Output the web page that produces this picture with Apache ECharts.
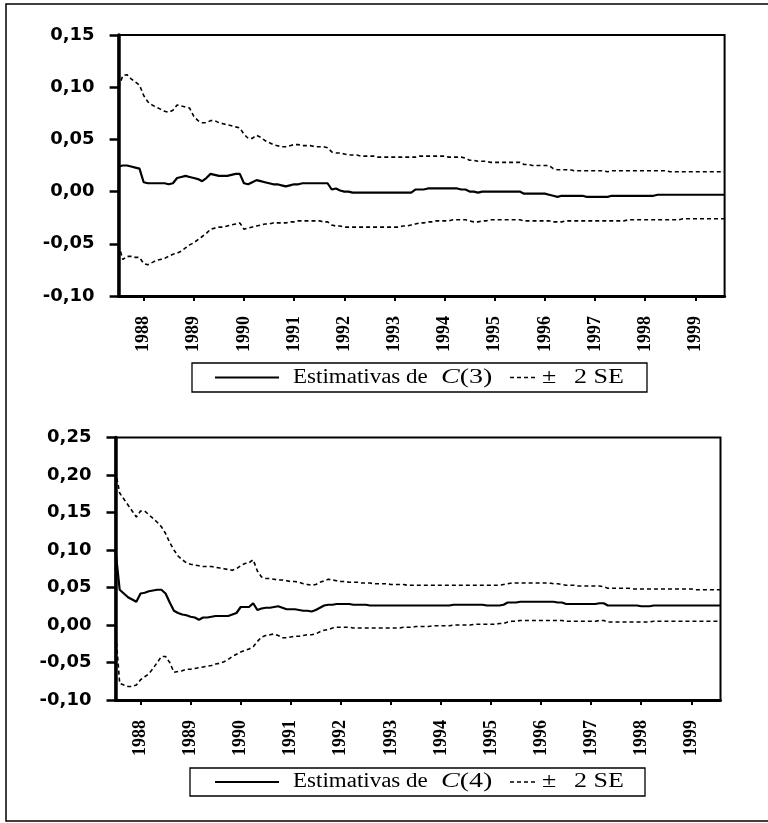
<!DOCTYPE html>
<html><head><meta charset="utf-8">
<script src="https://cdn.jsdelivr.net/npm/echarts@6/dist/echarts.min.js"></script>
<style>html,body{margin:0;padding:0;background:#fff}#c{width:768px;height:823px}</style>
</head><body><div id="c"></div>
<script>
// Monthly observations 1987:07 .. 1999:08
const startYear = 1987, startMonth = 7, nObs = 146;
const categories = [];
for (let k = 0; k < nObs; k++) {
  const t = startMonth - 1 + k;
  const y = startYear + Math.floor(t / 12), m = (t % 12) + 1;
  categories.push(y + '-' + (m < 10 ? '0' + m : m));
}

// Chart 1: recursive estimates of C(3) and +/- 2 SE
const est3 = [
  0.024,0.025,0.025,0.024,0.023,0.022,
  0.009,0.008,0.008,0.008,0.008,0.008,0.007,0.008,0.013,0.014,0.015,0.014,
  0.013,0.012,0.010,0.013,0.017,0.016,0.015,0.015,0.015,0.016,0.017,0.017,
  0.008,0.007,0.009,0.011,0.010,0.009,0.008,0.007,0.007,0.006,0.005,0.006,
  0.007,0.007,0.008,0.008,0.008,0.008,0.008,0.008,0.008,0.002,0.003,0.001,
  0.000,0.000,-0.001,-0.001,-0.001,-0.001,-0.001,-0.001,-0.001,-0.001,-0.001,-0.001,
  -0.001,-0.001,-0.001,-0.001,-0.001,0.002,0.002,0.002,0.003,0.003,0.003,0.003,
  0.003,0.003,0.003,0.003,0.002,0.002,0.000,0.000,-0.001,0.000,0.000,0.000,
  0.000,0.000,0.000,0.000,0.000,0.000,0.000,-0.002,-0.002,-0.002,-0.002,-0.002,
  -0.002,-0.003,-0.004,-0.005,-0.004,-0.004,-0.004,-0.004,-0.004,-0.004,-0.005,-0.005,
  -0.005,-0.005,-0.005,-0.005,-0.004,-0.004,-0.004,-0.004,-0.004,-0.004,-0.004,-0.004,
  -0.004,-0.004,-0.004,-0.003,-0.003,-0.003,-0.003,-0.003,-0.003,-0.003,-0.003,-0.003,
  -0.003,-0.003,-0.003,-0.003,-0.003,-0.003,-0.003,-0.003
];
const up3 = [
  0.100,0.111,0.112,0.108,0.105,0.102,
  0.092,0.086,0.083,0.081,0.079,0.077,0.076,0.078,0.083,0.082,0.081,0.080,
  0.072,0.068,0.066,0.066,0.068,0.068,0.066,0.065,0.064,0.063,0.062,0.061,
  0.055,0.051,0.051,0.054,0.052,0.049,0.047,0.045,0.044,0.043,0.043,0.044,
  0.045,0.045,0.044,0.044,0.044,0.043,0.043,0.043,0.042,0.038,0.037,0.037,
  0.036,0.035,0.035,0.035,0.034,0.034,0.034,0.034,0.033,0.033,0.033,0.033,
  0.033,0.033,0.033,0.033,0.033,0.033,0.034,0.034,0.034,0.034,0.034,0.034,
  0.034,0.033,0.033,0.033,0.033,0.032,0.030,0.030,0.029,0.029,0.029,0.028,
  0.028,0.028,0.028,0.028,0.028,0.028,0.028,0.026,0.026,0.025,0.025,0.025,
  0.025,0.025,0.022,0.021,0.021,0.021,0.021,0.020,0.020,0.020,0.020,0.020,
  0.020,0.020,0.020,0.019,0.020,0.020,0.020,0.020,0.020,0.020,0.020,0.020,
  0.020,0.020,0.020,0.020,0.020,0.020,0.019,0.019,0.019,0.019,0.019,0.019,
  0.019,0.019,0.019,0.019,0.019,0.019,0.019,0.019
];
const lo3 = [
  -0.051,-0.065,-0.062,-0.062,-0.063,-0.063,
  -0.069,-0.070,-0.068,-0.066,-0.065,-0.064,-0.062,-0.060,-0.059,-0.057,-0.054,-0.051,
  -0.049,-0.046,-0.043,-0.040,-0.036,-0.035,-0.034,-0.034,-0.033,-0.032,-0.031,-0.030,
  -0.036,-0.035,-0.034,-0.033,-0.032,-0.031,-0.031,-0.030,-0.030,-0.030,-0.030,-0.029,
  -0.029,-0.028,-0.028,-0.028,-0.028,-0.028,-0.028,-0.029,-0.029,-0.032,-0.033,-0.033,
  -0.034,-0.034,-0.034,-0.034,-0.034,-0.034,-0.034,-0.034,-0.034,-0.034,-0.034,-0.034,
  -0.034,-0.034,-0.033,-0.033,-0.032,-0.031,-0.030,-0.030,-0.029,-0.029,-0.028,-0.028,
  -0.028,-0.028,-0.027,-0.027,-0.027,-0.027,-0.028,-0.029,-0.029,-0.028,-0.028,-0.027,
  -0.027,-0.027,-0.027,-0.027,-0.027,-0.027,-0.027,-0.028,-0.028,-0.028,-0.028,-0.028,
  -0.028,-0.028,-0.029,-0.029,-0.029,-0.028,-0.028,-0.028,-0.028,-0.028,-0.028,-0.028,
  -0.028,-0.028,-0.028,-0.028,-0.028,-0.028,-0.028,-0.028,-0.027,-0.027,-0.027,-0.027,
  -0.027,-0.027,-0.027,-0.027,-0.027,-0.027,-0.027,-0.027,-0.027,-0.026,-0.026,-0.026,
  -0.026,-0.026,-0.026,-0.026,-0.026,-0.026,-0.026,-0.026
];

// Chart 2: recursive estimates of C(4) and +/- 2 SE
const est4 = [
  0.100,0.047,0.042,0.037,0.034,0.031,
  0.042,0.043,0.045,0.046,0.047,0.047,0.042,0.030,0.019,0.016,0.014,0.013,
  0.011,0.010,0.007,0.010,0.010,0.011,0.012,0.012,0.012,0.012,0.014,0.016,
  0.024,0.024,0.024,0.029,0.020,0.022,0.023,0.023,0.024,0.025,0.023,0.021,
  0.021,0.021,0.020,0.019,0.019,0.018,0.020,0.023,0.026,0.027,0.027,0.028,
  0.028,0.028,0.028,0.027,0.027,0.027,0.027,0.026,0.026,0.026,0.026,0.026,
  0.026,0.026,0.026,0.026,0.026,0.026,0.026,0.026,0.026,0.026,0.026,0.026,
  0.026,0.026,0.026,0.027,0.027,0.027,0.027,0.027,0.027,0.027,0.027,0.026,
  0.026,0.026,0.026,0.027,0.030,0.030,0.030,0.031,0.031,0.031,0.031,0.031,
  0.031,0.031,0.031,0.031,0.030,0.030,0.028,0.028,0.028,0.028,0.028,0.028,
  0.028,0.028,0.029,0.029,0.026,0.026,0.026,0.026,0.026,0.026,0.026,0.026,
  0.025,0.025,0.025,0.026,0.026,0.026,0.026,0.026,0.026,0.026,0.026,0.026,
  0.026,0.026,0.026,0.026,0.026,0.026,0.026,0.026
];
const up4 = [
  0.205,0.176,0.168,0.160,0.152,0.144,
  0.152,0.152,0.147,0.142,0.137,0.131,0.122,0.110,0.100,0.092,0.087,0.083,
  0.081,0.080,0.079,0.078,0.078,0.078,0.077,0.076,0.075,0.074,0.073,0.075,
  0.079,0.082,0.083,0.087,0.072,0.064,0.062,0.062,0.061,0.060,0.060,0.059,
  0.058,0.058,0.057,0.055,0.054,0.053,0.054,0.057,0.059,0.061,0.060,0.059,
  0.058,0.058,0.057,0.057,0.057,0.056,0.056,0.056,0.055,0.055,0.055,0.055,
  0.054,0.054,0.054,0.054,0.053,0.053,0.053,0.053,0.053,0.053,0.053,0.053,
  0.053,0.053,0.053,0.053,0.053,0.053,0.053,0.053,0.053,0.053,0.053,0.053,
  0.053,0.053,0.053,0.054,0.055,0.056,0.056,0.056,0.056,0.056,0.056,0.056,
  0.056,0.056,0.056,0.055,0.055,0.054,0.053,0.053,0.053,0.052,0.052,0.052,
  0.052,0.052,0.052,0.051,0.049,0.049,0.049,0.049,0.049,0.049,0.048,0.048,
  0.048,0.048,0.048,0.048,0.048,0.048,0.048,0.048,0.048,0.048,0.048,0.048,
  0.048,0.047,0.047,0.047,0.047,0.047,0.047,0.047
];
const lo4 = [
  -0.005,-0.078,-0.080,-0.082,-0.082,-0.080,
  -0.073,-0.069,-0.065,-0.058,-0.050,-0.042,-0.042,-0.050,-0.063,-0.062,-0.061,-0.059,
  -0.059,-0.058,-0.057,-0.056,-0.055,-0.054,-0.052,-0.051,-0.049,-0.046,-0.042,-0.039,
  -0.036,-0.034,-0.032,-0.029,-0.022,-0.016,-0.014,-0.013,-0.012,-0.014,-0.017,-0.017,
  -0.016,-0.015,-0.015,-0.014,-0.013,-0.013,-0.012,-0.009,-0.007,-0.006,-0.004,-0.003,
  -0.003,-0.003,-0.003,-0.004,-0.004,-0.004,-0.004,-0.004,-0.004,-0.004,-0.004,-0.004,
  -0.004,-0.004,-0.004,-0.003,-0.003,-0.003,-0.002,-0.002,-0.002,-0.002,-0.001,-0.001,
  -0.001,-0.001,-0.001,0.000,0.000,0.000,0.000,0.000,0.001,0.001,0.001,0.001,
  0.001,0.001,0.002,0.002,0.004,0.005,0.005,0.006,0.006,0.006,0.006,0.006,
  0.006,0.006,0.006,0.006,0.006,0.006,0.005,0.005,0.005,0.005,0.005,0.005,
  0.005,0.005,0.006,0.006,0.004,0.004,0.004,0.004,0.004,0.004,0.004,0.004,
  0.004,0.004,0.004,0.005,0.005,0.005,0.005,0.005,0.005,0.005,0.005,0.005,
  0.005,0.005,0.005,0.005,0.005,0.005,0.005,0.005
];

const legendLabels = [
  { name: 'Estimativas de ', coef: 'C', idx: '(3)', band: '\u00b1', bandRest: '2 SE' },
  { name: 'Estimativas de ', coef: 'C', idx: '(4)', band: '\u00b1', bandRest: '2 SE' }
];

const chart = echarts.init(document.getElementById('c'), null, { renderer: 'canvas' });

const isJan = (i, v) => v.slice(5) === '01';
function yFmt(v) {
  let r = Math.round(v * 100) / 100;
  if (Math.abs(r) < 1e-9) r = 0;
  return r.toFixed(2).replace('.', ',');
}
function xAxisCfg(g) {
  return {
    gridIndex: g, type: 'category', data: categories, boundaryGap: false,
    axisLine: { show: true, onZero: false, lineStyle: { color: '#000', width: 3 } },
    axisTick: { show: true, interval: isJan, length: 5, lineStyle: { color: '#000', width: 2 } },
    axisLabel: {
      interval: isJan, formatter: v => v.slice(0, 4), rotate: 90, margin: 20,
      fontFamily: 'Liberation Serif', fontWeight: 'bold', fontSize: 18, color: '#000'
    },
    splitLine: { show: false }
  };
}
function yAxisCfg(g, max) {
  return {
    gridIndex: g, type: 'value', min: -0.1, max: max, interval: 0.05,
    axisLine: { show: true, onZero: false, lineStyle: { color: '#000', width: 3.5 } },
    axisTick: { show: true, length: 9, lineStyle: { color: '#000', width: 2.5 } },
    axisLabel: {
      formatter: yFmt, margin: 24, fontFamily: 'DejaVu Sans', fontWeight: 'bold',
      fontSize: 18, color: '#000'
    },
    splitLine: { show: false }
  };
}
function lineSeries(g, data, dashed) {
  return {
    type: 'line', xAxisIndex: g, yAxisIndex: g, data: data, symbol: 'none',
    silent: true, z: 3,
    lineStyle: dashed
      ? { color: '#000', width: 1.6, type: [4, 3] }
      : { color: '#000', width: 2.2 }
  };
}
function legendGroup(lbl, box, cy) {
  const base = { fontFamily: 'Liberation Serif', fontSize: 20, fill: '#000' };
  return {
    type: 'group',
    children: [
      { type: 'rect', shape: box, style: { fill: 'none', stroke: '#000', lineWidth: 1.3 } },
      { type: 'line', shape: { x1: 215, y1: cy, x2: 279, y2: cy }, style: { stroke: '#000', lineWidth: 1.8 } },
      { type: 'text', x: 293, y: cy, scaleX: 1.15,
        style: Object.assign({ text: lbl.name, verticalAlign: 'middle', textAlign: 'left' }, base) },
      { type: 'text', x: 441, y: cy, scaleX: 1.4,
        style: Object.assign({ text: '{i|' + lbl.coef + '}{n|' + lbl.idx + '}', verticalAlign: 'middle', textAlign: 'left',
          rich: { i: Object.assign({ fontStyle: 'italic' }, base), n: Object.assign({}, base) } }, base) },
      { type: 'line', shape: { x1: 510, y1: cy, x2: 537, y2: cy }, style: { stroke: '#000', lineWidth: 1.5, lineDash: [4, 3] } },
      { type: 'text', x: 542, y: cy, scaleX: 1.3,
        style: Object.assign({ text: lbl.band, verticalAlign: 'middle', textAlign: 'left' }, base) },
      { type: 'text', x: 574, y: cy, scaleX: 1.3,
        style: Object.assign({ text: lbl.bandRest, verticalAlign: 'middle', textAlign: 'left' }, base) }
    ]
  };
}

chart.setOption({
  animation: false,
  backgroundColor: '#fff',
  grid: [
    { left: 118.6, top: 35, width: 606, height: 261, show: true, borderColor: '#000', borderWidth: 2, backgroundColor: 'transparent' },
    { left: 115.5, top: 437.5, width: 605, height: 262.5, show: true, borderColor: '#000', borderWidth: 2, backgroundColor: 'transparent' }
  ],
  xAxis: [xAxisCfg(0), xAxisCfg(1)],
  yAxis: [yAxisCfg(0, 0.15), yAxisCfg(1, 0.25)],
  series: [
    lineSeries(0, est3, false), lineSeries(0, up3, true), lineSeries(0, lo3, true),
    lineSeries(1, est4, false), lineSeries(1, up4, true), lineSeries(1, lo4, true)
  ],
  graphic: [
    { type: 'rect', shape: { x: 6, y: 4, width: 800, height: 817 }, style: { fill: 'none', stroke: '#000', lineWidth: 1.5 } },
    legendGroup(legendLabels[0], { x: 192, y: 363, width: 455, height: 29 }, 377.5),
    legendGroup(legendLabels[1], { x: 190, y: 768, width: 455, height: 28 }, 782)
  ]
});
</script>
</body></html>
